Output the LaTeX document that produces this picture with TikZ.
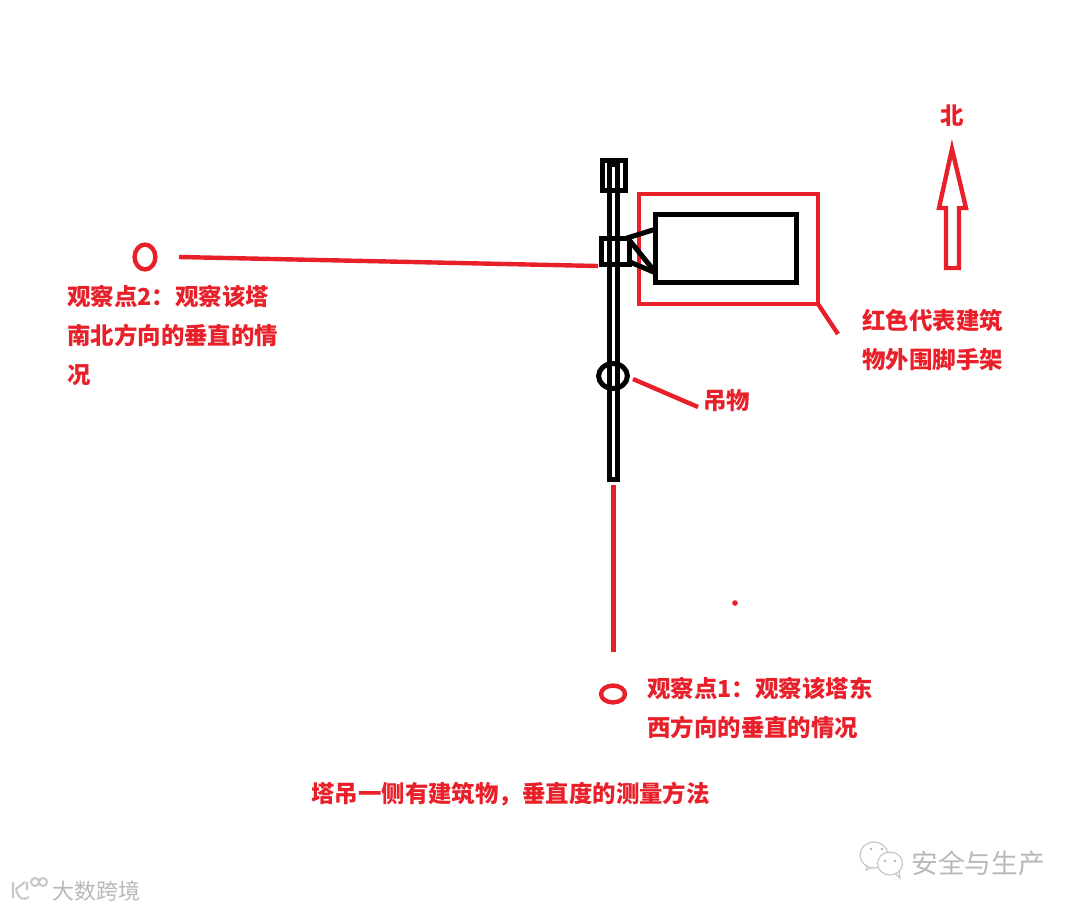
\documentclass[tikz,border=0pt]{standalone}
\usepackage{fontspec}
\usepackage{xcolor}
\setmainfont{Noto Sans CJK SC}
\usetikzlibrary{shapes.geometric, positioning}
\definecolor{paintred}{HTML}{E8202A}

\begin{document}
\begin{tikzpicture}[
  x=0.025cm, y=-0.025cm,
  redtext/.style  = {anchor=north west, inner sep=0pt, align=left, text=paintred,
                     font=\fontsize{16.67}{27.9}\selectfont\bfseries},
  steel/.style    = {rectangle, draw=black, line width=0.125cm, inner sep=0pt, outer sep=0pt},
  scaffold/.style = {rectangle, draw=paintred, line width=0.11cm, inner sep=0pt, outer sep=0pt},
  station/.style  = {ellipse, draw=paintred, line width=0.11cm, inner sep=0pt, outer sep=0pt},
  redline/.style  = {draw=paintred, line width=0.11cm},
  blackline/.style= {draw=black, line width=0.125cm},
  stamp/.style    = {text=black!28, inner sep=0pt},
  stampline/.style= {draw=black!22, line width=0.05cm}
]
\useasboundingbox (0,0) rectangle (1080,910);

% ---------- scaffold and building ----------
\node[scaffold, minimum width=4.475cm, minimum height=2.75cm] (scaff) at (728.5,249) {};
\node[steel, minimum width=3.5cm, minimum height=1.675cm] (house) at (726,248.5) {};

% ---------- tower ----------
\node[steel, minimum width=0.2cm, minimum height=7.85cm] (mast) at (613.5,322) {};
\node[steel, minimum width=0.575cm, minimum height=0.75cm] (top) at (613.5,175.5) {};
\node[steel, minimum width=0.7cm, minimum height=0.65cm] (collar) at (615,251) {};
\node[steel, ellipse, minimum width=0.72cm, minimum height=0.62cm] (load) at (613,376) {};

\coordinate (tie1) at (627,238);
\coordinate (tie2) at (630,241);
\coordinate (tie3) at (630,262);
\draw[blackline] (tie1) -- (house.west |- 0,229);
\draw[blackline] (tie2) -- (house.west |- 0,273);
\draw[blackline] (tie3) -- (house.west |- 0,273);

% ---------- observation points ----------
\node[station, minimum width=0.52cm, minimum height=0.62cm] (obs2) at (145,257) {};
\node[station, minimum width=0.6cm, minimum height=0.42cm] (obs1) at (613,694) {};
\coordinate (sight2) at (179,257);
\coordinate (end2) at (598,266);
\coordinate (sight1) at (613.5,485);
\coordinate (end1) at (613.5,652);
\draw[redline] (sight2) -- (end2);
\draw[redline] (sight1) -- (end1);
\fill[paintred] (735,603) circle (0.07cm);

% ---------- north arrow ----------
\node[redtext, anchor=center] (north) at (952,116) {北};
\draw[redline, line join=miter] (952,149) -- (966,208) -- (959,208) -- (959,268)
  -- (946,268) -- (946,208) -- (939,208) -- cycle;

% ---------- labels ----------
\node[redtext] (text2) at (67,284.5) {观察点2：观察该塔\\南北方向的垂直的情\\况};
\node[redtext] (text1) at (647,677) {观察点1：观察该塔东\\西方向的垂直的情况};
\node[redtext] (textscaff) at (862,309) {红色代表建筑\\物外围脚手架};
\node[redtext] (textload) at (703,389) {吊物};
\node[redtext] (title) at (311,782) {塔吊一侧有建筑物，垂直度的测量方法};

\coordinate (lead1) at (633,379);
\coordinate (lead2) at (698,407);
\coordinate (lead3) at (838,334);
\draw[redline] (lead1) -- (lead2);
\draw[redline] (scaff.south east) -- (lead3);

% ---------- watermarks ----------
\node[stamp, font=\fontsize{15.6}{15.6}\selectfont, anchor=west] (brandl) at (52,891) {大数跨境};
\node[stamp, font=\fontsize{19}{19}\selectfont, anchor=west] (brandr) at (911,863) {安全与生产};
\draw[stampline] (13,882) -- (13,898) (25,882) -- (16,889);
\draw[stampline] (16,889) .. controls (18,899) and (24,901) .. (29,897);
\draw[stampline] (27,882) -- (27,890) (35,882) circle (4) (43,882) circle (4);
\draw[stampline, line width=0.03cm, fill=white] (874,855) ellipse (14 and 13);
\draw[stampline, line width=0.03cm] (867,866) -- (866,870) -- (873,867);
\draw[stampline, line width=0.03cm, fill=white] (890,863.5) ellipse (12.5 and 11.5);
\draw[stampline, line width=0.03cm] (895,873) -- (900,878) -- (899,870);
\foreach \dotx/\doty in {871/849, 882/849, 885/861, 895/861}
  \fill[black!30] (\dotx,\doty) circle (0.035cm);
\end{tikzpicture}
\end{document}
